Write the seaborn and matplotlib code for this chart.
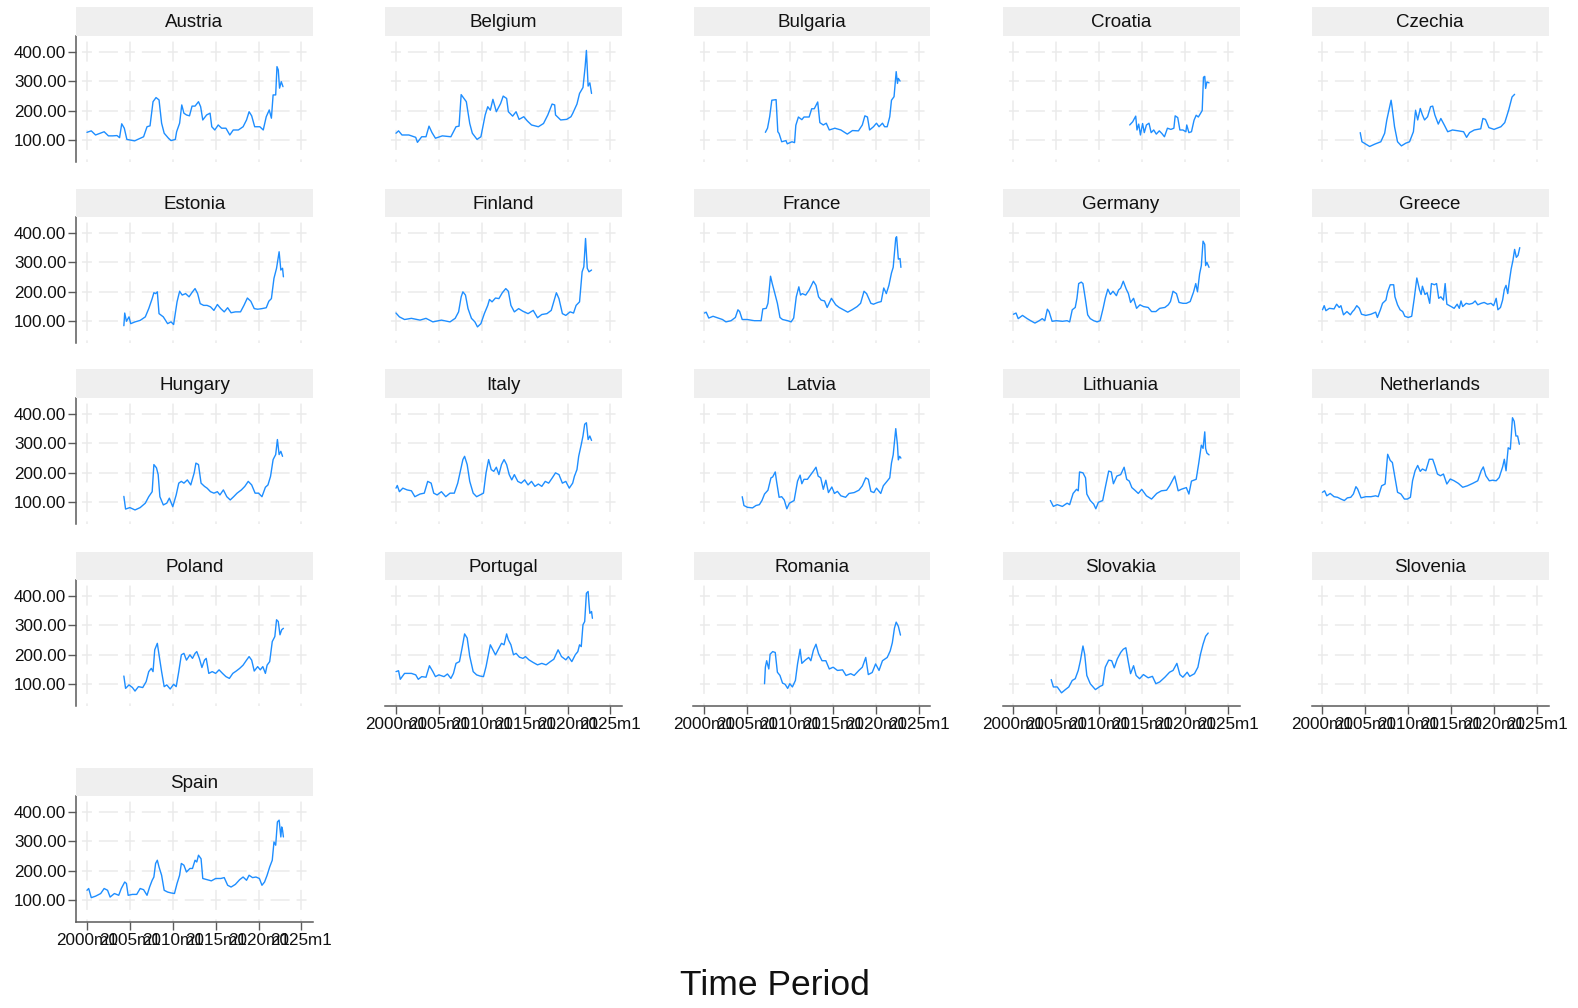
import pandas as pd
import matplotlib
matplotlib.use("Agg")
import matplotlib.pyplot as plt
from matplotlib.patches import Rectangle
import seaborn as sns

countries = ["Austria", "Belgium", "Bulgaria", "Croatia", "Czechia",
             "Estonia", "Finland", "France", "Germany", "Greece",
             "Hungary", "Italy", "Latvia", "Lithuania", "Netherlands",
             "Poland", "Portugal", "Romania", "Slovakia", "Slovenia",
             "Spain"]

x_ticks = [2000, 2005, 2010, 2015, 2020, 2025]
x_tick_labels = ["2000m1", "2005m1", "2010m1", "2015m1", "2020m1", "2025m1"]
y_ticks = [100, 200, 300, 400]
y_tick_labels = ["100.00", "200.00", "300.00", "400.00"]

# values (decimal year, index value)
austria_t = [2000.0, 2000.5, 2001.0, 2001.55, 2002.0, 2002.5, 2003.0, 2003.5, 2003.8, 2004.05, 2004.35, 2004.65,
             2005.55, 2006.0, 2006.6, 2007.0, 2007.35, 2007.7, 2008.05, 2008.4, 2008.7, 2009.0, 2009.5, 2009.8,
             2010.3, 2010.45, 2010.8, 2011.05, 2011.3, 2011.6, 2011.95, 2012.25, 2012.6, 2013.0, 2013.25, 2013.5,
             2013.95, 2014.35, 2014.55, 2014.9, 2015.3, 2015.7, 2016.2, 2016.65, 2017.05, 2017.65, 2018.2, 2018.6,
             2018.9, 2019.2, 2019.55, 2020.15, 2020.55, 2020.9, 2021.25, 2021.5, 2021.7, 2022.0, 2022.15, 2022.3,
             2022.45, 2022.65, 2022.85]
austria_v = [126, 131, 117, 123, 128, 114, 114, 115, 108, 155, 140, 102,
             97, 103, 111, 145, 148, 230, 244, 236, 157, 123, 106, 98,
             102, 128, 157, 219, 191, 185, 182, 215, 215, 230, 213, 168,
             185, 191, 145, 134, 151, 140, 140, 117, 134, 134, 145, 168,
             196, 182, 145, 145, 134, 179, 202, 174, 253, 253, 349, 338,
             276, 298, 281]

belgium_t = [2000.0, 2000.3, 2000.7, 2001.5, 2002.3, 2002.5, 2003.0, 2003.5, 2003.85, 2004.2, 2004.6, 2005.4,
             2006.4, 2007.0, 2007.35, 2007.6, 2008.0, 2008.2, 2008.6, 2008.9, 2009.45, 2009.9, 2010.4, 2010.7,
             2011.0, 2011.3, 2011.7, 2012.2, 2012.5, 2012.9, 2013.1, 2013.6, 2014.0, 2014.35, 2014.9, 2015.3,
             2015.8, 2016.6, 2017.2, 2017.7, 2018.2, 2018.5, 2018.6, 2019.2, 2019.9, 2020.4, 2020.6, 2021.1,
             2021.4, 2021.8, 2022.05, 2022.2, 2022.4, 2022.6, 2022.8]
belgium_v = [123, 131, 117, 117, 109, 92, 111, 111, 147, 125, 106, 114,
             111, 145, 147, 254, 238, 230, 156, 123, 102, 111, 185, 213,
             201, 238, 196, 224, 249, 241, 196, 181, 196, 170, 179, 165,
             151, 145, 156, 185, 222, 219, 185, 168, 170, 179, 190, 222,
             258, 278, 348, 404, 283, 294, 258]

bulgaria_t = [2007.1, 2007.35, 2007.6, 2007.85, 2008.35, 2008.55, 2008.7, 2009.0, 2009.5, 2009.65, 2010.2, 2010.5,
              2010.65, 2010.95, 2011.35, 2011.6, 2012.2, 2012.5, 2012.8, 2013.2, 2013.45, 2013.85, 2014.2, 2014.55,
              2015.2, 2015.9, 2016.65, 2017.25, 2017.95, 2018.4, 2018.7, 2019.0, 2019.25, 2019.7, 2020.05, 2020.35,
              2020.75, 2021.0, 2021.3, 2021.6, 2021.8, 2022.1, 2022.35, 2022.5, 2022.6, 2022.8]
bulgaria_v = [126, 140, 179, 235, 237, 128, 122, 94, 98, 87, 94, 91,
              150, 178, 169, 178, 178, 206, 206, 229, 159, 151, 157, 134,
              140, 134, 120, 132, 131, 151, 182, 178, 134, 145, 157, 145,
              157, 145, 145, 179, 235, 247, 332, 292, 309, 300]

croatia_t = [2013.55, 2013.9, 2014.25, 2014.4, 2014.6, 2014.8, 2015.05, 2015.25, 2015.5, 2015.8, 2016.05, 2016.35,
             2016.65, 2017.0, 2017.3, 2017.6, 2017.95, 2018.35, 2018.7, 2018.85, 2019.15, 2019.4, 2019.75, 2020.1,
             2020.2, 2020.45, 2020.75, 2021.05, 2021.3, 2021.55, 2021.8, 2022.0, 2022.15, 2022.3, 2022.4, 2022.55,
             2022.8]
croatia_v = [151, 162, 181, 134, 154, 117, 156, 125, 151, 157, 125, 134,
             120, 131, 122, 111, 140, 136, 140, 182, 176, 134, 134, 128,
             151, 125, 128, 167, 184, 178, 190, 200, 313, 316, 275, 297,
             294]

czechia_t = [2004.4, 2004.6, 2005.5, 2006.1, 2006.8, 2007.25, 2007.5, 2008.0, 2008.1, 2008.4, 2008.75, 2009.2,
             2009.7, 2010.15, 2010.6, 2010.85, 2011.1, 2011.4, 2011.65, 2011.9, 2012.25, 2012.6, 2012.85, 2013.1,
             2013.5, 2013.8, 2014.2, 2014.6, 2015.15, 2015.85, 2016.45, 2016.8, 2017.15, 2017.7, 2018.45, 2018.7,
             2019.0, 2019.4, 2020.0, 2020.8, 2021.25, 2021.7, 2022.1, 2022.4]
czechia_v = [125, 94, 78, 86, 94, 123, 168, 235, 215, 145, 94, 80,
             89, 94, 128, 201, 168, 207, 185, 168, 179, 213, 215, 185,
             154, 173, 151, 128, 134, 131, 128, 109, 125, 134, 138, 173,
             170, 142, 136, 145, 159, 201, 246, 255]

estonia_t = [2004.3, 2004.4, 2004.6, 2004.9, 2005.1, 2005.6, 2006.2, 2006.8, 2007.2, 2007.6, 2007.8, 2008.0,
             2008.2, 2008.4, 2008.9, 2009.4, 2009.8, 2010.1, 2010.5, 2010.8, 2011.1, 2011.5, 2011.9, 2012.3,
             2012.6, 2012.9, 2013.2, 2013.6, 2014.0, 2014.4, 2014.8, 2015.2, 2015.6, 2016.0, 2016.4, 2016.8,
             2017.3, 2017.9, 2018.3, 2018.7, 2019.1, 2019.5, 2019.9, 2020.4, 2020.9, 2021.2, 2021.5, 2021.8,
             2022.1, 2022.4, 2022.6, 2022.8, 2022.9]
estonia_v = [85, 128, 100, 115, 92, 98, 103, 115, 143, 177, 197, 194,
             200, 126, 115, 92, 98, 89, 166, 202, 189, 194, 183, 200,
             211, 194, 160, 154, 154, 149, 137, 157, 143, 132, 146, 129,
             132, 132, 154, 179, 168, 143, 141, 143, 146, 168, 177, 246,
             280, 336, 274, 280, 251]

finland_t = [2000.0, 2000.4, 2001.0, 2001.8, 2002.8, 2003.5, 2004.3, 2005.3, 2006.3, 2006.9, 2007.3, 2007.6,
             2007.8, 2008.1, 2008.4, 2008.8, 2009.2, 2009.5, 2009.9, 2010.3, 2010.7, 2010.9, 2011.2, 2011.6,
             2012.0, 2012.4, 2012.8, 2013.1, 2013.4, 2013.8, 2014.3, 2014.8, 2015.4, 2016.0, 2016.5, 2017.0,
             2017.6, 2018.1, 2018.5, 2018.7, 2019.0, 2019.4, 2019.8, 2020.3, 2020.7, 2021.0, 2021.4, 2021.7,
             2021.9, 2022.1, 2022.3, 2022.5, 2022.8]
finland_v = [128, 115, 106, 110, 104, 110, 98, 104, 98, 110, 132, 183,
             200, 189, 143, 110, 98, 81, 92, 126, 154, 174, 166, 179,
             177, 197, 211, 202, 154, 132, 143, 134, 126, 137, 112, 123,
             126, 137, 177, 197, 177, 126, 120, 132, 128, 154, 166, 268,
             285, 381, 280, 268, 274]

france_t = [2000.0, 2000.2, 2000.5, 2001.0, 2001.6, 2002.1, 2002.5, 2003.1, 2003.6, 2003.9, 2004.1, 2004.4,
            2005.0, 2005.8, 2006.6, 2006.8, 2007.2, 2007.4, 2007.7, 2007.9, 2008.1, 2008.5, 2008.8, 2009.1,
            2009.7, 2010.1, 2010.4, 2010.7, 2011.0, 2011.2, 2011.4, 2011.8, 2012.2, 2012.7, 2013.0, 2013.3,
            2013.6, 2014.0, 2014.3, 2014.8, 2015.3, 2015.7, 2016.2, 2016.7, 2017.2, 2017.8, 2018.2, 2018.6,
            2018.9, 2019.4, 2019.7, 2020.2, 2020.6, 2020.9, 2021.2, 2021.5, 2021.8, 2022.0, 2022.3, 2022.4,
            2022.6, 2022.8, 2022.9]
france_v = [128, 131, 111, 117, 111, 106, 98, 102, 113, 139, 133, 106,
            106, 102, 102, 142, 144, 161, 253, 228, 206, 161, 113, 106,
            102, 98, 111, 183, 217, 189, 194, 189, 206, 236, 222, 183,
            172, 169, 147, 178, 156, 147, 139, 131, 139, 150, 161, 202,
            194, 161, 158, 164, 167, 213, 194, 222, 264, 283, 383, 387,
            311, 313, 283]

germany_t = [2000.0, 2000.3, 2000.55, 2001.05, 2001.6, 2002.0, 2002.5, 2003.0, 2003.35, 2003.65, 2003.95, 2004.15,
             2004.5, 2005.0, 2005.7, 2006.25, 2006.55, 2006.85, 2007.2, 2007.4, 2007.6, 2007.9, 2008.1, 2008.4,
             2008.65, 2008.95, 2009.35, 2009.75, 2010.1, 2010.45, 2010.7, 2011.0, 2011.3, 2011.6, 2012.0, 2012.25,
             2012.5, 2012.8, 2013.15, 2013.4, 2013.65, 2014.0, 2014.35, 2014.75, 2015.15, 2015.7, 2016.1, 2016.6,
             2017.05, 2017.65, 2018.05, 2018.3, 2018.6, 2019.0, 2019.3, 2019.75, 2020.15, 2020.6, 2021.0, 2021.25,
             2021.45, 2021.7, 2021.9, 2022.1, 2022.3, 2022.4, 2022.55, 2022.8]
germany_v = [124, 128, 109, 120, 109, 102, 94, 102, 109, 102, 141, 133,
             100, 102, 100, 102, 98, 139, 147, 178, 228, 233, 228, 172,
             122, 109, 102, 98, 102, 144, 178, 209, 191, 202, 187, 206,
             213, 236, 209, 194, 164, 178, 144, 156, 150, 147, 133, 133,
             144, 147, 156, 167, 202, 194, 164, 161, 161, 167, 200, 228,
             200, 261, 289, 372, 361, 289, 300, 283]

greece_t = [2000.0, 2000.2, 2000.4, 2000.8, 2001.35, 2001.65, 2001.95, 2002.15, 2002.45, 2002.85, 2003.25, 2003.5,
            2003.7, 2004.0, 2004.3, 2004.55, 2005.05, 2005.65, 2006.2, 2006.4, 2006.75, 2007.0, 2007.4, 2007.6,
            2007.9, 2008.3, 2008.45, 2008.75, 2009.05, 2009.35, 2009.6, 2010.0, 2010.4, 2010.7, 2011.0, 2011.3,
            2011.5, 2011.65, 2011.95, 2012.2, 2012.5, 2012.7, 2013.05, 2013.3, 2013.55, 2013.8, 2014.1, 2014.3,
            2014.5, 2015.0, 2015.35, 2015.7, 2015.95, 2016.15, 2016.35, 2016.75, 2017.1, 2017.5, 2017.8, 2018.1,
            2018.5, 2018.85, 2019.25, 2019.65, 2019.95, 2020.25, 2020.45, 2020.75, 2021.0, 2021.2, 2021.4, 2021.6,
            2021.8, 2022.0, 2022.2, 2022.4, 2022.6, 2022.8, 2023.0]
greece_v = [139, 153, 136, 144, 142, 158, 147, 153, 122, 133, 122, 133,
            139, 153, 144, 124, 120, 124, 131, 113, 139, 161, 172, 200,
            224, 224, 183, 156, 139, 133, 117, 113, 117, 178, 247, 208,
            191, 219, 191, 197, 161, 228, 224, 228, 178, 183, 172, 228,
            158, 150, 144, 158, 144, 169, 150, 161, 158, 161, 169, 156,
            161, 164, 158, 161, 153, 178, 139, 147, 172, 208, 222, 194,
            239, 278, 306, 344, 317, 324, 350]

hungary_t = [2004.3, 2004.5, 2005.0, 2005.6, 2006.2, 2006.8, 2007.2, 2007.6, 2007.8, 2008.1, 2008.3, 2008.5,
             2008.9, 2009.3, 2009.6, 2010.0, 2010.4, 2010.7, 2011.0, 2011.3, 2011.7, 2012.1, 2012.5, 2012.7,
             2013.0, 2013.3, 2013.7, 2014.0, 2014.4, 2014.8, 2015.2, 2015.5, 2015.9, 2016.3, 2016.7, 2017.1,
             2017.5, 2018.0, 2018.4, 2018.8, 2019.2, 2019.6, 2020.0, 2020.4, 2020.8, 2021.1, 2021.4, 2021.7,
             2022.0, 2022.2, 2022.4, 2022.6, 2022.8]
hungary_v = [120, 77, 82, 74, 82, 97, 119, 136, 228, 217, 194, 119,
             91, 97, 114, 85, 125, 165, 171, 165, 176, 159, 200, 233,
             228, 165, 154, 148, 136, 131, 136, 125, 142, 119, 108, 119,
             131, 142, 154, 171, 159, 131, 131, 119, 151, 159, 188, 245,
             262, 313, 262, 273, 256]

italy_t = [2000.0, 2000.15, 2000.4, 2000.8, 2001.3, 2001.8, 2002.2, 2002.8, 2003.3, 2003.7, 2004.1, 2004.4,
           2004.8, 2005.3, 2005.8, 2006.3, 2006.8, 2007.2, 2007.5, 2007.8, 2008.0, 2008.3, 2008.6, 2009.0,
           2009.4, 2009.8, 2010.2, 2010.5, 2010.8, 2011.1, 2011.4, 2011.7, 2012.0, 2012.3, 2012.6, 2012.9,
           2013.2, 2013.5, 2013.8, 2014.2, 2014.6, 2015.0, 2015.4, 2015.8, 2016.2, 2016.6, 2017.0, 2017.4,
           2017.8, 2018.2, 2018.6, 2019.0, 2019.4, 2019.8, 2020.2, 2020.6, 2020.8, 2021.1, 2021.3, 2021.6,
           2021.8, 2022.0, 2022.2, 2022.4, 2022.6, 2022.8]
italy_v = [148, 157, 136, 148, 142, 139, 119, 128, 131, 171, 165, 131,
           125, 136, 119, 131, 131, 165, 205, 245, 256, 228, 171, 131,
           119, 125, 131, 200, 245, 211, 205, 219, 194, 228, 245, 228,
           194, 176, 194, 171, 165, 176, 159, 171, 154, 162, 154, 171,
           165, 182, 200, 194, 165, 171, 148, 165, 188, 211, 256, 296,
           325, 365, 370, 313, 325, 310]

latvia_t = [2004.4, 2004.6, 2005.0, 2005.6, 2006.0, 2006.4, 2006.7, 2007.0, 2007.4, 2007.75, 2007.95, 2008.25,
            2008.4, 2008.7, 2009.0, 2009.3, 2009.6, 2009.9, 2010.45, 2010.85, 2011.15, 2011.35, 2011.6, 2012.0,
            2012.4, 2012.7, 2013.0, 2013.25, 2013.55, 2013.85, 2014.15, 2014.45, 2014.85, 2015.15, 2015.5, 2015.9,
            2016.45, 2016.85, 2017.45, 2018.0, 2018.4, 2018.8, 2019.1, 2019.4, 2019.75, 2020.05, 2020.55, 2020.85,
            2021.3, 2021.6, 2021.8, 2022.0, 2022.3, 2022.5, 2022.6, 2022.75, 2022.9]
latvia_v = [119, 89, 83, 81, 89, 92, 106, 128, 141, 183, 186, 203,
            172, 117, 119, 108, 78, 97, 106, 172, 192, 163, 178, 178,
            194, 206, 219, 189, 183, 144, 175, 133, 152, 130, 137, 122,
            117, 130, 133, 141, 156, 183, 178, 137, 133, 148, 130, 156,
            172, 183, 233, 261, 350, 294, 244, 256, 250]

lithuania_t = [2004.3, 2004.65, 2005.1, 2005.7, 2006.25, 2006.55, 2006.95, 2007.35, 2007.55, 2007.7, 2008.1, 2008.4,
               2008.55, 2008.95, 2009.35, 2009.6, 2009.9, 2010.4, 2010.7, 2011.1, 2011.4, 2011.65, 2012.05, 2012.5,
               2012.9, 2013.2, 2013.5, 2013.8, 2014.15, 2014.55, 2014.95, 2015.5, 2016.1, 2016.7, 2017.25, 2017.85,
               2018.2, 2018.8, 2019.2, 2019.55, 2020.15, 2020.45, 2020.75, 2021.3, 2021.6, 2021.9, 2022.1, 2022.3,
               2022.4, 2022.55, 2022.8]
lithuania_v = [106, 86, 92, 86, 97, 92, 130, 144, 139, 203, 200, 183,
               128, 106, 94, 78, 100, 106, 150, 206, 203, 163, 189, 194,
               219, 178, 172, 150, 141, 130, 144, 122, 111, 130, 139, 141,
               156, 189, 139, 144, 150, 128, 172, 178, 233, 294, 283, 339,
               283, 267, 261]

netherlands_t = [2000.0, 2000.25, 2000.5, 2000.9, 2001.35, 2001.75, 2002.15, 2002.55, 2002.9, 2003.3, 2003.6, 2003.9,
                 2004.1, 2004.5, 2005.05, 2005.65, 2006.2, 2006.5, 2006.9, 2007.3, 2007.6, 2007.9, 2008.15, 2008.45,
                 2008.75, 2009.15, 2009.55, 2009.9, 2010.25, 2010.5, 2010.8, 2011.1, 2011.4, 2011.65, 2012.05, 2012.45,
                 2012.85, 2013.1, 2013.4, 2013.75, 2014.1, 2014.5, 2014.9, 2015.35, 2015.85, 2016.35, 2016.9, 2017.5,
                 2018.1, 2018.5, 2018.75, 2019.05, 2019.45, 2019.85, 2020.25, 2020.6, 2021.0, 2021.2, 2021.4, 2021.65,
                 2021.9, 2022.15, 2022.35, 2022.55, 2022.75, 2022.95]
netherlands_v = [134, 139, 122, 130, 119, 117, 111, 106, 115, 117, 128, 153,
                 145, 115, 119, 119, 122, 119, 156, 162, 263, 242, 235, 184,
                 134, 128, 111, 111, 117, 173, 207, 225, 205, 213, 207, 246,
                 246, 225, 196, 190, 196, 162, 179, 173, 164, 151, 156, 164,
                 173, 207, 220, 190, 173, 175, 173, 184, 220, 246, 207, 285,
                 280, 387, 375, 325, 325, 297]

poland_t = [2004.3, 2004.5, 2004.9, 2005.3, 2005.6, 2006.0, 2006.5, 2006.9, 2007.2, 2007.5, 2007.7, 2007.9,
            2008.2, 2008.4, 2008.7, 2009.0, 2009.3, 2009.7, 2010.1, 2010.4, 2010.7, 2011.0, 2011.3, 2011.6,
            2012.0, 2012.3, 2012.6, 2012.8, 2013.1, 2013.4, 2013.7, 2013.9, 2014.2, 2014.6, 2015.0, 2015.4,
            2015.8, 2016.2, 2016.6, 2017.0, 2017.4, 2017.8, 2018.2, 2018.6, 2018.9, 2019.2, 2019.5, 2019.9,
            2020.2, 2020.5, 2020.8, 2021.0, 2021.3, 2021.6, 2021.9, 2022.1, 2022.3, 2022.5, 2022.7, 2022.9]
poland_v = [128, 86, 98, 89, 77, 92, 89, 109, 143, 154, 143, 217,
            239, 200, 143, 92, 98, 84, 100, 92, 143, 200, 205, 182,
            200, 188, 205, 211, 188, 157, 182, 188, 137, 143, 137, 149,
            137, 126, 120, 137, 145, 154, 165, 182, 194, 182, 145, 160,
            149, 160, 137, 165, 177, 245, 262, 319, 313, 268, 285, 290]

portugal_t = [2000.0, 2000.3, 2000.5, 2001.0, 2001.8, 2002.3, 2002.6, 2003.0, 2003.5, 2003.9, 2004.3, 2004.6,
              2005.0, 2005.6, 2006.0, 2006.4, 2006.7, 2007.0, 2007.4, 2007.7, 2008.0, 2008.3, 2008.6, 2009.0,
              2009.4, 2009.8, 2010.2, 2010.5, 2010.8, 2011.0, 2011.3, 2011.6, 2011.9, 2012.3, 2012.6, 2012.9,
              2013.1, 2013.4, 2013.7, 2014.0, 2014.4, 2014.8, 2015.1, 2015.5, 2016.0, 2016.5, 2017.0, 2017.5,
              2018.0, 2018.4, 2018.9, 2019.3, 2019.8, 2020.1, 2020.5, 2020.9, 2021.2, 2021.4, 2021.6, 2021.8,
              2022.0, 2022.2, 2022.4, 2022.5, 2022.6, 2022.8, 2022.9]
portugal_v = [143, 146, 117, 137, 137, 132, 117, 126, 124, 163, 143, 126,
              132, 126, 135, 120, 137, 171, 177, 222, 271, 257, 195, 143,
              132, 128, 126, 160, 205, 234, 217, 200, 217, 239, 234, 271,
              251, 234, 200, 205, 192, 188, 194, 183, 174, 166, 171, 166,
              177, 185, 217, 194, 183, 194, 177, 200, 211, 234, 228, 302,
              313, 409, 415, 375, 341, 347, 324]

romania_t = [2007.0, 2007.1, 2007.25, 2007.5, 2007.65, 2007.95, 2008.25, 2008.5, 2008.8, 2009.1, 2009.4, 2009.7,
             2009.95, 2010.25, 2010.6, 2010.85, 2011.15, 2011.35, 2011.75, 2012.15, 2012.4, 2012.7, 2013.0, 2013.3,
             2013.7, 2014.15, 2014.55, 2015.0, 2015.5, 2016.1, 2016.5, 2017.05, 2017.45, 2018.0, 2018.4, 2018.8,
             2019.1, 2019.55, 2019.95, 2020.35, 2020.75, 2021.3, 2021.65, 2021.9, 2022.15, 2022.35, 2022.6, 2022.85]
romania_v = [102, 158, 180, 152, 202, 211, 208, 141, 130, 104, 100, 86,
             102, 91, 113, 169, 219, 171, 182, 191, 180, 216, 236, 204,
             180, 180, 152, 158, 147, 149, 130, 136, 130, 147, 158, 191,
             133, 140, 169, 147, 180, 191, 213, 241, 291, 311, 297, 267]

slovakia_t = [2004.4, 2004.65, 2005.1, 2005.6, 2006.05, 2006.45, 2006.85, 2007.2, 2007.55, 2007.8, 2008.1, 2008.3,
              2008.55, 2008.95, 2009.55, 2010.1, 2010.4, 2010.7, 2011.1, 2011.45, 2011.75, 2012.1, 2012.5, 2012.8,
              2013.1, 2013.4, 2013.65, 2014.0, 2014.3, 2014.7, 2015.15, 2015.7, 2016.2, 2016.6, 2017.05, 2017.65,
              2018.2, 2018.6, 2019.05, 2019.4, 2019.75, 2020.25, 2020.55, 2021.1, 2021.5, 2021.8, 2022.1, 2022.4,
              2022.7]
slovakia_v = [116, 91, 91, 71, 82, 91, 113, 119, 147, 180, 230, 202,
              130, 102, 82, 93, 97, 158, 182, 180, 156, 186, 208, 219,
              224, 174, 136, 163, 130, 119, 133, 122, 127, 102, 108, 124,
              141, 147, 171, 133, 124, 141, 127, 136, 158, 202, 236, 263,
              274]

slovenia_t = []
slovenia_v = []

spain_t = [2000.0, 2000.2, 2000.5, 2001.0, 2001.6, 2002.0, 2002.4, 2002.7, 2003.2, 2003.7, 2004.0, 2004.4,
           2004.6, 2004.8, 2005.3, 2005.8, 2006.2, 2006.6, 2007.0, 2007.3, 2007.6, 2007.8, 2008.0, 2008.2,
           2008.4, 2008.7, 2009.0, 2009.4, 2009.8, 2010.2, 2010.5, 2010.8, 2011.0, 2011.3, 2011.6, 2012.0,
           2012.3, 2012.6, 2012.8, 2013.0, 2013.3, 2013.5, 2014.0, 2014.5, 2015.0, 2015.6, 2016.0, 2016.4,
           2016.8, 2017.3, 2017.8, 2018.2, 2018.6, 2018.9, 2019.3, 2019.7, 2020.1, 2020.4, 2020.7, 2021.0,
           2021.3, 2021.6, 2021.8, 2022.0, 2022.2, 2022.4, 2022.6, 2022.7, 2022.8, 2022.9]
spain_v = [134, 140, 109, 114, 123, 140, 134, 111, 123, 117, 140, 162,
           157, 117, 120, 120, 140, 136, 117, 145, 168, 179, 225, 236,
           213, 185, 134, 128, 125, 123, 157, 185, 225, 219, 196, 208,
           208, 236, 230, 253, 241, 174, 170, 166, 174, 174, 177, 151,
           145, 154, 170, 179, 168, 185, 177, 179, 174, 151, 162, 185,
           213, 236, 298, 287, 366, 372, 315, 349, 338, 315]

series = {
    "Austria": (austria_t, austria_v), "Belgium": (belgium_t, belgium_v),
    "Bulgaria": (bulgaria_t, bulgaria_v), "Croatia": (croatia_t, croatia_v),
    "Czechia": (czechia_t, czechia_v), "Estonia": (estonia_t, estonia_v),
    "Finland": (finland_t, finland_v), "France": (france_t, france_v),
    "Germany": (germany_t, germany_v), "Greece": (greece_t, greece_v),
    "Hungary": (hungary_t, hungary_v), "Italy": (italy_t, italy_v),
    "Latvia": (latvia_t, latvia_v), "Lithuania": (lithuania_t, lithuania_v),
    "Netherlands": (netherlands_t, netherlands_v), "Poland": (poland_t, poland_v),
    "Portugal": (portugal_t, portugal_v), "Romania": (romania_t, romania_v),
    "Slovakia": (slovakia_t, slovakia_v), "Slovenia": (slovenia_t, slovenia_v),
    "Spain": (spain_t, spain_v),
}

frames = [pd.DataFrame({"country": name, "period": t, "price": v})
          for name, (t, v) in series.items() if len(t)]
df = pd.concat(frames, ignore_index=True)

sns.set_style("white")
plt.rcParams["font.family"] = ["Liberation Sans", "DejaVu Sans"]
plt.rcParams["lines.scale_dashes"] = False

line_color = "#1E8EFF"
grid_color = "#EBEBEB"
axis_color = "#5A5A5A"

g = sns.relplot(data=df, x="period", y="price", col="country", col_order=countries,
                col_wrap=5, kind="line", estimator=None, sort=False,
                color=line_color, linewidth=1.0, height=2, aspect=1.6,
                facet_kws=dict(sharex=True, sharey=True))
fig = g.figure
fig.set_size_inches(15.78, 10.08)
g.set_axis_labels("", "")
g.set_titles("")

W, H = 1578, 1008
col_left = [76, 385, 693.5, 1002.5, 1311.5]
row_top = [35.7, 217, 398, 580, 796]
panel_w, panel_h = 237, 126.3
strip_h = 28.5 / panel_h

# dashed grid laid out so the dashes meet at the crossings
h_dash = (26.6, (7.2, 5.0, 13.7, 5.0))
v_dash = (12.5, (14.4, 6.8))

# panels with nothing below them get the time axis
bottom_idx = {16, 17, 18, 19, 20}
for i, name in enumerate(countries):
    ax = g.axes_dict[name]
    r, c = divmod(i, 5)
    ax.set_position([col_left[c] / W, 1 - (row_top[r] + panel_h) / H, panel_w / W, panel_h / H])
    ax.set_xlim(1998.72, 2026.35)
    ax.set_ylim(25.3, 454)
    ax.set_xticks(x_ticks)
    ax.set_xticklabels(x_tick_labels)
    ax.set_yticks(y_ticks)
    ax.set_yticklabels(y_tick_labels)
    ax.set_xlabel("")
    ax.set_ylabel("")
    ax.grid(axis="y", color=grid_color, linewidth=1.1, linestyle=h_dash)
    ax.grid(axis="x", color=grid_color, linewidth=1.1, linestyle=v_dash)
    ax.set_axisbelow(True)
    for s in ax.spines.values():
        s.set_visible(False)
    ax.tick_params(axis="both", colors=axis_color, labelcolor="#111111", labelsize=12.3,
                   width=1.0, length=5.5)
    ax.tick_params(axis="y", pad=1.5)
    ax.tick_params(axis="x", pad=2)
    if c == 0:
        ax.spines["left"].set_visible(True)
        ax.spines["left"].set_color(axis_color)
        ax.spines["left"].set_linewidth(1.1)
        ax.tick_params(axis="y", left=True, labelleft=True)
    else:
        ax.tick_params(axis="y", left=False, labelleft=False)
    if i in bottom_idx:
        ax.spines["bottom"].set_visible(True)
        ax.spines["bottom"].set_color(axis_color)
        ax.spines["bottom"].set_linewidth(1.1)
        ax.tick_params(axis="x", bottom=True, labelbottom=True)
    else:
        ax.tick_params(axis="x", bottom=False, labelbottom=False)
    ax.add_patch(Rectangle((0, 1), 1, strip_h, transform=ax.transAxes, clip_on=False,
                           facecolor="#EFEFEF", edgecolor="none", zorder=3))
    ax.text(0.5, 1 + strip_h / 2 - 0.01, name, transform=ax.transAxes, ha="center", va="center",
            fontsize=13.5, color="#111111", zorder=4)

fig.text(0.491, 1 - 995 / H, "Time Period", ha="center", va="baseline", fontsize=25.5, color="#111111")

fig.savefig("out.png", dpi=100)
